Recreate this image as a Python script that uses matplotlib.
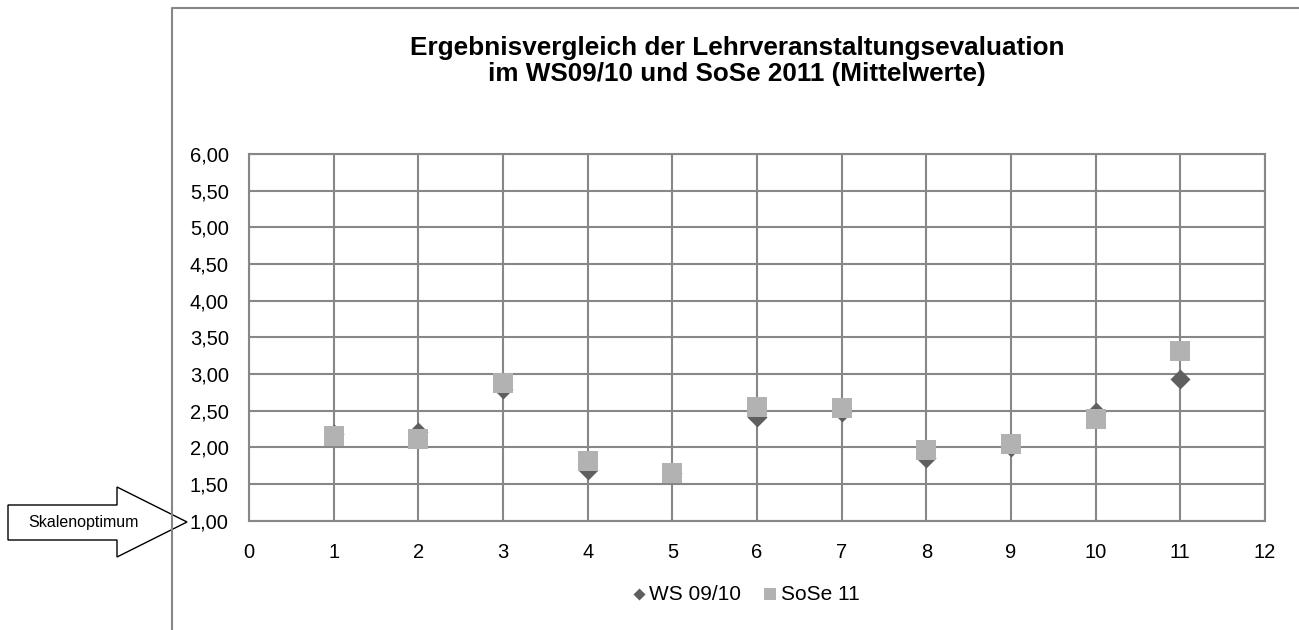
import numpy as np
import matplotlib
matplotlib.use('Agg')
import matplotlib.pyplot as plt
from matplotlib.lines import Line2D
from matplotlib.patches import Polygon

plt.rcParams['font.family'] = ['Liberation Sans', 'DejaVu Sans']

# data
items = [1, 2, 3, 4, 5, 6, 7, 8, 9, 10, 11]
ws0910 = [2.18, 2.21, 2.79, 1.69, 1.65, 2.42, 2.48, 1.86, 2.00, 2.48, 2.93]
sose11 = [2.15, 2.12, 2.88, 1.82, 1.65, 2.55, 2.53, 1.97, 2.05, 2.38, 3.31]
yticks = np.arange(1.0, 6.01, 0.5)
xticks = np.arange(0, 13, 1)

gridCol = '#878787'
W, H = 1299, 630

fig = plt.figure(figsize=(W/100, H/100), dpi=100)
ax = fig.add_axes([249/W, 1-520.7/H, (1265-249)/W, (520.7-154)/H])

ax.scatter(items, ws0910, marker='D', s=10.2**2, color='#5f5f5f', linewidths=0, zorder=3, label='WS 09/10')
ax.scatter(items, sose11, marker='s', s=14.4**2, color='#b2b2b2', linewidths=0, zorder=4, label='SoSe 11')

ax.set_xlim(0, 12)
ax.set_ylim(1, 6)
ax.set_xticks(xticks)
ax.set_yticks(yticks)
ax.set_yticklabels([('%.2f' % v).replace('.', ',') for v in yticks])
ax.tick_params(length=0, labelsize=14.5)
ax.tick_params(axis='y', pad=14.5)
ax.tick_params(axis='x', pad=16)
ax.grid(True, color=gridCol, linewidth=1.5)
ax.set_axisbelow(True)
for s in ax.spines.values():
    s.set_color(gridCol)
    s.set_linewidth(1.5)

# title
fig.text(737/W, 1-61/H, 'Ergebnisvergleich der Lehrveranstaltungsevaluation\nim WS09/10 und SoSe 2011 (Mittelwerte)',
         ha='center', va='center', fontsize=18.8, fontweight='bold', linespacing=1.15)

# legend
leg = fig.legend(loc='center', bbox_to_anchor=(744/W, 1-594/H), ncol=2, frameon=False,
                 fontsize=15, markerscale=0.6, handletextpad=0.0, columnspacing=0.9,
                 handlelength=1.0)

# chart area frame (cut off at right and bottom)
fig.add_artist(Line2D([172/W, 172/W, 1.0], [0.0, 1-8/H, 1-8/H], color=gridCol, linewidth=1.5,
                      transform=fig.transFigure))

# block arrow pointing at scale optimum
arrow = [(8, 505), (117, 505), (117, 487), (187, 522), (117, 557), (117, 540), (8, 540)]
fig.add_artist(Polygon([(px/W, 1-py/H) for px, py in arrow], closed=True, facecolor='white',
                       edgecolor='black', linewidth=1.0, transform=fig.transFigure))
fig.text(83/W, 1-522/H, 'Skalenoptimum', ha='center', va='center', fontsize=11.5)

plt.savefig('out.png', dpi=100)
